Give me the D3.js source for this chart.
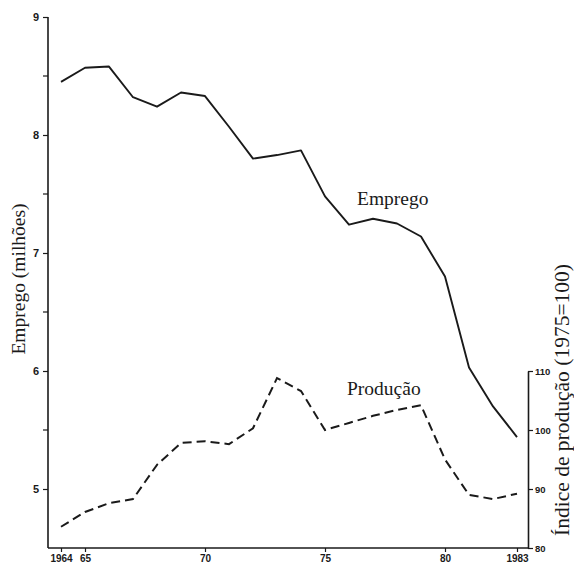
<!DOCTYPE html>
<html>
<head>
<meta charset="utf-8">
<script src="https://cdn.jsdelivr.net/npm/d3@7"></script>
<style>
  html, body { margin: 0; padding: 0; background: #fff; }
  svg { display: block; }
</style>
</head>
<body>
<div id="chart"></div>
<script>
// ---- data ----
const years = [1964,1965,1966,1967,1968,1969,1970,1971,1972,1973,1974,1975,1976,1977,1978,1979,1980,1981,1982,1983];
const emprego = [8.45,8.57,8.58,8.32,8.24,8.36,8.33,8.07,7.80,7.83,7.87,7.48,7.24,7.29,7.25,7.14,6.80,6.03,5.70,5.44];
const producao = [83.6,86.1,87.6,88.3,94.1,97.8,98.1,97.6,100.3,108.8,106.6,100.0,101.2,102.4,103.4,104.2,95.0,89.0,88.3,89.2];
const xTickValues = [1964,1965,1970,1975,1980,1983];
const xTickLabels = ["1964","65","70","75","80","1983"];
const leftTickValues = [5,6,7,8,9];
const leftMinorTicks = [5.5,6.5,7.5,8.5];
const rightTickValues = [80,90,100,110];
const leftTitle = "Emprego (milhões)";
const rightTitle = "Índice de produção (1975=100)";
const seriesLabels = ["Emprego","Produção"];

// ---- layout ----
const W = 574, H = 566;
const x0 = 48, x1 = 528, yBottom = 548, yTop = 17;

const svg = d3.select("#chart").append("svg").attr("width", W).attr("height", H);

const x = d3.scaleLinear().domain([1964,1983]).range([61,517]);
const yL = d3.scaleLinear().domain([4.5,9]).range([yBottom,yTop]);
// right axis: 10 index points = 0.5 million on left scale
const yR = d3.scaleLinear().domain([80,110]).range([yBottom, yL(6.0)]);

const ink = "#1a1a1a";

// left axis
const gL = svg.append("g").attr("transform", `translate(${x0},0)`)
  .call(d3.axisLeft(yL).tickValues(leftTickValues).tickSize(5).tickSizeOuter(0).tickFormat(d3.format("d")));
gL.append("g").selectAll("line").data(leftMinorTicks).join("line")
  .attr("x1",-5).attr("x2",0).attr("y1",d=>yL(d)).attr("y2",d=>yL(d)).attr("stroke",ink).attr("stroke-width",1.2);
gL.select(".domain").attr("d", `M0,${yTop}V${yBottom}`);

// bottom axis
const gB = svg.append("g").attr("transform", `translate(0,${yBottom})`)
  .call(d3.axisBottom(x).tickValues(xTickValues).tickSize(4).tickSizeOuter(0)
    .tickFormat((d,i)=>xTickLabels[i]));
gB.select(".domain").attr("d", `M${x0},0H${x1}`);

// right axis
const gR = svg.append("g").attr("transform", `translate(${x1},0)`)
  .call(d3.axisRight(yR).tickValues(rightTickValues).tickSize(5).tickSizeOuter(0).tickFormat(d3.format("d")));

[gL,gB,gR].forEach(g=>{
  g.select(".domain").attr("stroke",ink).attr("stroke-width",1.6);
  g.selectAll(".tick line").attr("stroke",ink).attr("stroke-width",1.2);
  g.selectAll(".tick text").attr("fill",ink).attr("font-family","Liberation Sans, Arial, sans-serif").attr("font-weight","bold");
});
gL.selectAll(".tick text").attr("font-size",11).attr("x",-9);
gB.selectAll(".tick text").attr("font-size",10).attr("y",7);
gR.selectAll(".tick text").attr("font-size",9.5).attr("x",7);

// lines
const lineE = d3.line().x((d,i)=>x(years[i])).y(d=>yL(d));
const lineP = d3.line().x((d,i)=>x(years[i])).y(d=>yR(d));

svg.append("path").datum(emprego).attr("d",lineE)
  .attr("fill","none").attr("stroke",ink).attr("stroke-width",1.9).attr("stroke-linejoin","round");
svg.append("path").datum(producao).attr("d",lineP)
  .attr("fill","none").attr("stroke",ink).attr("stroke-width",2).attr("stroke-dasharray","9,5");

// series labels
svg.append("text").attr("x",357).attr("y",205).text(seriesLabels[0])
  .attr("font-family","Liberation Serif, serif").attr("font-size",19.5).attr("fill",ink);
svg.append("text").attr("x",347).attr("y",395).text(seriesLabels[1])
  .attr("font-family","Liberation Serif, serif").attr("font-size",19.5).attr("fill",ink);

// axis titles
svg.append("text").attr("transform","translate(25,279) rotate(-90)")
  .attr("text-anchor","middle").text(leftTitle)
  .attr("font-family","Liberation Serif, serif").attr("font-size",19.5).attr("fill",ink);
svg.append("text").attr("transform","translate(569,400) rotate(-90)")
  .attr("text-anchor","middle").text(rightTitle)
  .attr("font-family","Liberation Serif, serif").attr("font-size",21.5).attr("fill",ink);
</script>
</body>
</html>
